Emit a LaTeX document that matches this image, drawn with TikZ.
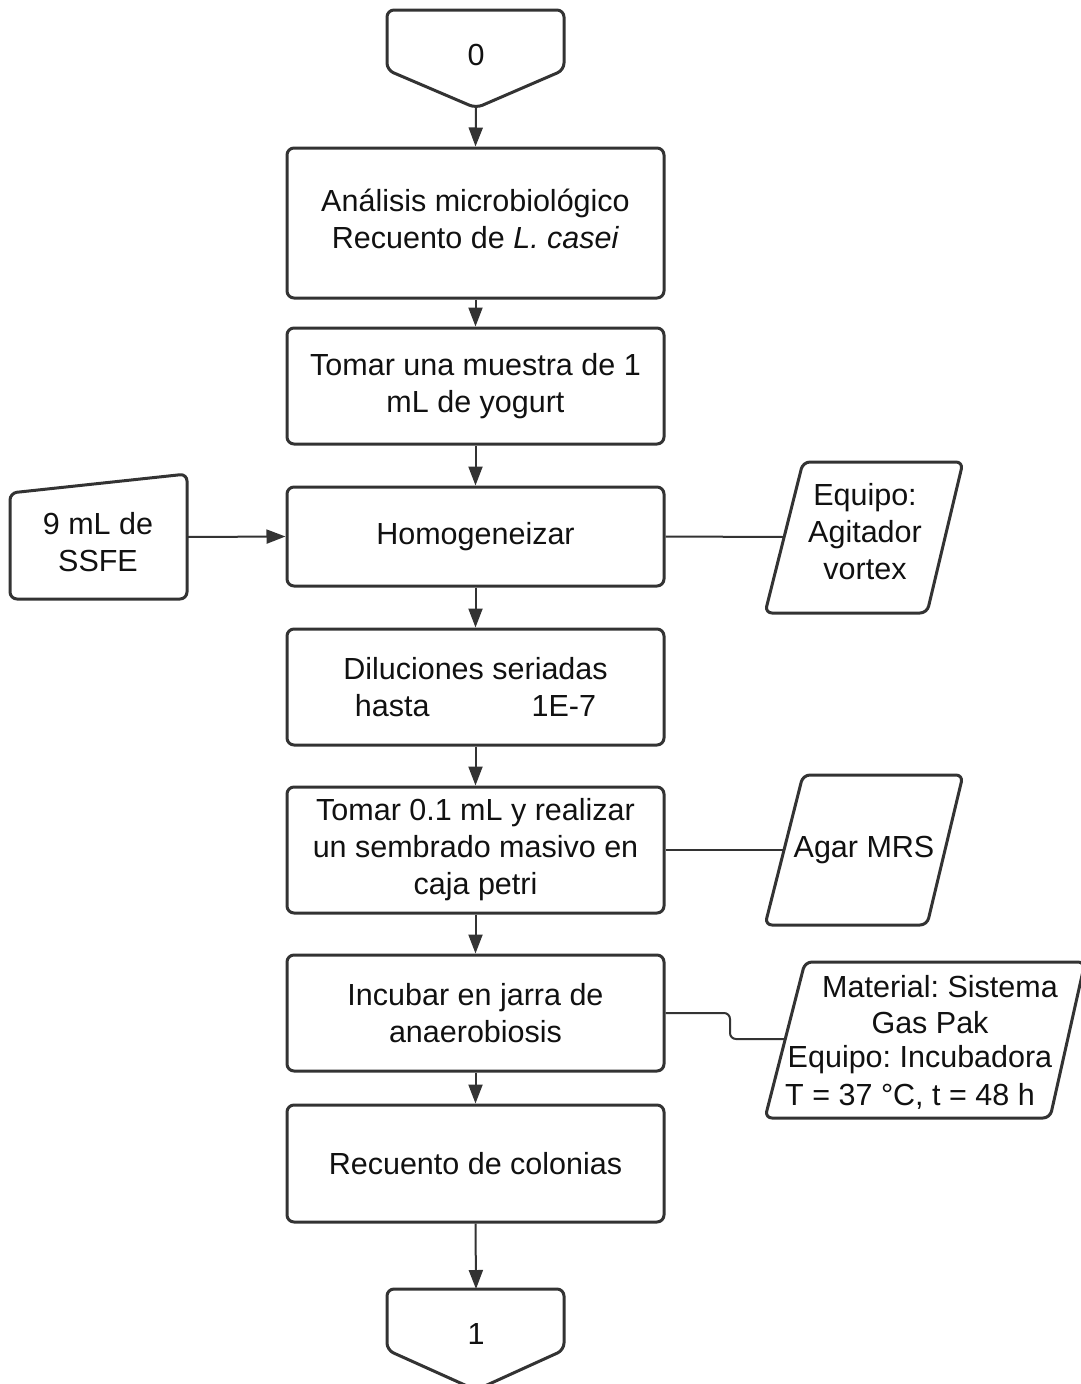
\documentclass[tikz,border=0pt]{standalone}
\usepackage{fontspec}
\setmainfont{Liberation Sans}
\usetikzlibrary{arrows.meta}
\definecolor{ln}{HTML}{333333}
\definecolor{tx}{HTML}{111111}
\tikzset{
  shapeline/.style={draw=ln, line width=3pt, line join=round, rounded corners=7pt, fill=white},
  procbox/.style={shapeline, rectangle, minimum width=377pt, align=center, inner sep=0pt},
  label/.style={text=tx, align=center, inner sep=0pt, font=\fontsize{30.5}{37}\selectfont\frenchspacing},
  flow/.style={draw=ln, line width=2pt, -{Triangle[length=19pt,width=14pt]}},
  link/.style={draw=ln, line width=2pt, rounded corners=6pt}
}
\begin{document}
\begin{tikzpicture}[x=1pt, y=-1pt]
  \useasboundingbox (0,0) rectangle (1081,1384);
  \clip (0,0) rectangle (1081,1384);

  % off-page connectors
  \draw[shapeline] (387,10) -- (564,10) -- (564,70) -- (476,108) -- (387,70) -- cycle;
  \node[label] (c0) at (476,55) {0};
  \coordinate (c0tip) at (476,108);

  \draw[shapeline] (387,1289) -- (564,1289) -- (564,1350) -- (476,1390) -- (387,1350) -- cycle;
  \node[label] (c1) at (476,1334) {1};
  \coordinate (c1top) at (476,1289);

  % process steps
  \node[procbox, label, minimum height=150pt] (b1) at (475.5,223)
    {\raisebox{4pt}{\begin{tabular}{@{}c@{}}Análisis microbiológico\\Recuento de \textit{L. casei}\end{tabular}}};
  \node[procbox, label, minimum height=116pt] (b2) at (475.5,386)
    {Tomar una muestra de 1\\mL de yogurt};
  \node[procbox, label, minimum height=99pt] (b3) at (475.5,536.5)
    {Homogeneizar};
  \node[procbox, label, minimum height=116pt] (b4) at (475.5,687)
    {Diluciones seriadas\\hasta\hspace{102pt}1E-7};
  \node[procbox, label, minimum height=126pt] (b5) at (475.5,850)
    {Tomar 0.1 mL y realizar\\un sembrado masivo en\\caja petri};
  \node[procbox, label, minimum height=116pt] (b6) at (475.5,1013)
    {Incubar en jarra de\\anaerobiosis};
  \node[procbox, label, minimum height=117pt] (b7) at (475.5,1163.5)
    {Recuento de colonias};

  % manual input
  \draw[shapeline] (10,493) -- (187,474) -- (187,599) -- (10,599) -- cycle;
  \node[label] (m1) at (98,542) {9 mL de\\SSFE};
  \coordinate (m1E) at (187,537);

  % inputs on the right
  \draw[shapeline] (803,462) -- (963,462) -- (927,613) -- (765,613) -- cycle;
  \node[label] (p1) at (865,532) {Equipo:\\Agitador\\vortex};
  \coordinate (p1W) at (784,537);

  \draw[shapeline] (803,775) -- (963,775) -- (927,925) -- (765,925) -- cycle;
  \node[label] (p2) at (864,850) {Agar MRS};
  \coordinate (p2W) at (784,850);

  \draw[shapeline] (805,962) -- (1085,962) -- (1050,1118) -- (765,1118) -- cycle;
  \node[label] (p3a) at (940,987) {Material: Sistema};
  \node[label] (p3b) at (930,1023) {Gas Pak};
  \node[label] (p3c) at (920,1060) {Equipo: Incubadora};
  \node[label] (p3d) at (910,1096) {T = 37 °C, t = 48 h};
  \coordinate (p3W) at (785,1039);

  % main flow
  \draw[flow] (c0tip) -- (b1.north);
  \draw[flow] (b1.south) -- (b2.north);
  \draw[flow] (b2.south) -- (b3.north);
  \draw[flow] (b3.south) -- (b4.north);
  \draw[flow] (b4.south) -- (b5.north);
  \draw[flow] (b5.south) -- (b6.north);
  \draw[flow] (b6.south) -- (b7.north);
  \draw[flow] (b7.south) -- (c1top);

  % side links
  \draw[flow] (m1E) -- (b3.west);
  \draw[link] (b3.east) -- (p1W);
  \draw[link] (b5.east) -- (p2W);
  \draw[link] (b6.east) -- (730,1013) -- (730,1039) -- (p3W);
\end{tikzpicture}
\end{document}
